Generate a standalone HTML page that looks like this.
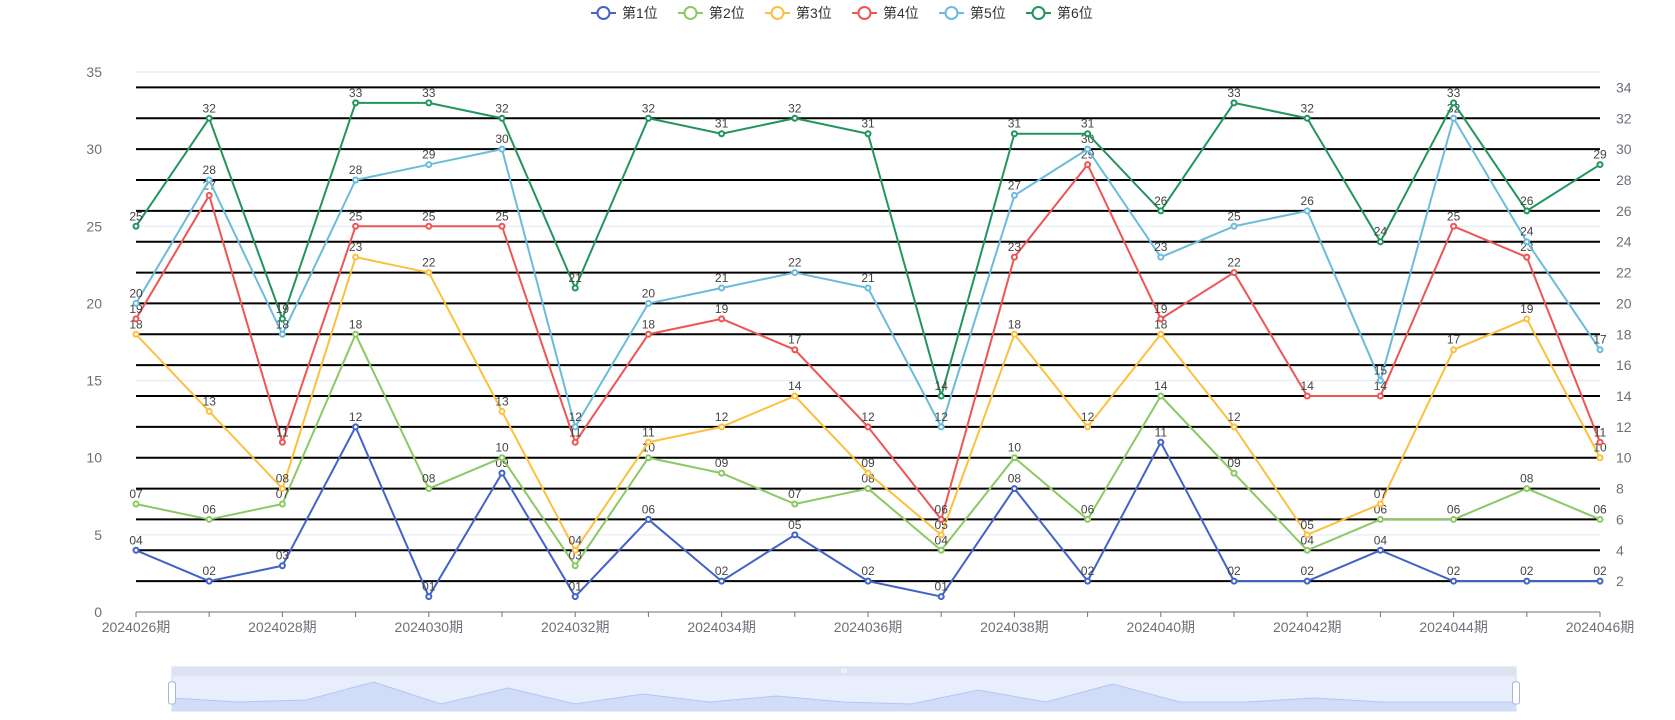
<!DOCTYPE html>
<html><head><meta charset="utf-8">
<style>
body{margin:0;background:#fff;}
svg{display:block;font-family:"Liberation Sans","Noto Sans CJK SC",sans-serif;}
</style></head>
<body>
<svg id="chart" width="1675" height="720" viewBox="0 0 1675 720"></svg>
<script>
const categories = ["2024026期","2024027期","2024028期","2024029期","2024030期","2024031期","2024032期","2024033期","2024034期","2024035期","2024036期","2024037期","2024038期","2024039期","2024040期","2024041期","2024042期","2024043期","2024044期","2024045期","2024046期"];
const seriesNames = ["第1位","第2位","第3位","第4位","第5位","第6位"];
const s1 = [4,2,3,12,1,9,1,6,2,5,2,1,8,2,11,2,2,4,2,2,2];
const s2 = [7,6,7,18,8,10,3,10,9,7,8,4,10,6,14,9,4,6,6,8,6];
const s3 = [18,13,8,23,22,13,4,11,12,14,9,5,18,12,18,12,5,7,17,19,10];
const s4 = [19,27,11,25,25,25,11,18,19,17,12,6,23,29,19,22,14,14,25,23,11];
const s5 = [20,28,18,28,29,30,12,20,21,22,21,12,27,30,23,25,26,15,32,24,17];
const s6 = [25,32,19,33,33,32,21,32,31,32,31,14,31,31,26,33,32,24,33,26,29];
const leftTicks = [0,5,10,15,20,25,30,35];
const rightTicks = [2,4,6,8,10,12,14,16,18,20,22,24,26,28,30,32,34];
const colors = ["#4363c8","#8cc863","#fbc13e","#ee5555","#6bbcdc","#22955e"];

const NS="http://www.w3.org/2000/svg";
const svg=document.getElementById('chart');
const X0=136,X1=1600,Y0=612,Y35=72;
const xs=i=>X0+(X1-X0)*i/(categories.length-1);
const ys=v=>Y0-(Y0-Y35)*v/35;
function mk(tag,attrs,parent){const e=document.createElementNS(NS,tag);for(const k in attrs)e.setAttribute(k,attrs[k]);(parent||svg).appendChild(e);return e;}

// light grid
leftTicks.forEach(t=>{
  if(t>0){const l=mk('line',{x1:X0,x2:X1,y1:ys(t),y2:ys(t),stroke:'#e0e6f1','stroke-width':1});
  
  }
  const tx=mk('text',{x:102,y:ys(t)+5,'text-anchor':'end','font-size':14,fill:'#6e7079'});
  tx.textContent=t;
  
  
});
// black lines for right axis
rightTicks.forEach(t=>{
  const l=mk('line',{x1:X0,x2:X1,y1:ys(t),y2:ys(t),stroke:'#000','stroke-width':2});
  
  
  const tx=mk('text',{x:1616,y:ys(t)+5,'font-size':14,fill:'#6e7079'});
  tx.textContent=t;
  
  
});
// x axis
const ax=mk('line',{x1:X0,x2:X1,y1:Y0,y2:Y0,stroke:'#6e7079','stroke-width':1});


categories.forEach((c,i)=>{
  const tk=mk('line',{x1:xs(i),x2:xs(i),y1:Y0,y2:Y0+5,stroke:'#6e7079'});
  
  
  if(i%2===0){
    const tx=mk('text',{x:xs(i),y:Y0+20,'text-anchor':'middle','font-size':14,fill:'#6e7079'});
    tx.textContent=c;
    
    
  }
});
// series
const allSeries=[s1,s2,s3,s4,s5,s6];
allSeries.forEach((d,si)=>{
  const g=mk('g',{});
  
  
  const p=mk('polyline',{points:d.map((v,i)=>xs(i)+','+ys(v)).join(' '),fill:'none',stroke:colors[si],'stroke-width':2,'stroke-linejoin':'round'},g);
  
  
  d.forEach((v,i)=>{
    const c=mk('circle',{cx:xs(i),cy:ys(v),r:2.5,fill:'#fff',stroke:colors[si],'stroke-width':2},g);
    
    
    const t=mk('text',{x:xs(i),y:ys(v)-6,'text-anchor':'middle','font-size':12,fill:'#444'},g);
    t.textContent=String(v).padStart(2,'0');
    
    
  });
});
// legend
const lx=[591,678,765,852,939,1026];
seriesNames.forEach((n,i)=>{
  const g=mk('g',{});
  
  
  mk('line',{x1:lx[i],x2:lx[i]+25,y1:13,y2:13,stroke:colors[i],'stroke-width':2},g);
  mk('circle',{cx:lx[i]+12.5,cy:13,r:6,fill:'#fff',stroke:colors[i],'stroke-width':2},g);
  const t=mk('text',{x:lx[i]+31,y:18,'font-size':14,fill:'#333'},g);
  t.textContent=n;
});
// data zoom slider
const SX0=172,SX1=1516,ST=667,SB=711;
const dz=mk('g',{});


mk('rect',{x:SX0,y:ST,width:SX1-SX0,height:SB-ST,fill:'#e8eefc',stroke:'#d2dbee'},dz);
mk('rect',{x:SX0,y:ST,width:SX1-SX0,height:9,fill:'#dde3f1'},dz);
const mn=Math.min(...s1),mx=Math.max(...s1);
const sxs=i=>SX0+(SX1-SX0)*i/(s1.length-1);
const sys=v=>704-(704-682)*(v-mn)/(mx-mn);
const pts=s1.map((v,i)=>sxs(i)+','+sys(v)).join(' ');
const sh=mk('polygon',{points:SX0+','+SB+' '+pts+' '+SX1+','+SB,fill:'#d1dcf8',stroke:'none'},dz);


mk('polyline',{points:pts,fill:'none',stroke:'#b3c6f4','stroke-width':1},dz);
[SX0,SX1].forEach(hx=>{
  const h=mk('rect',{x:hx-3.5,y:682,width:7,height:22,rx:2,fill:'#fff',stroke:'#a9b5d3'},dz);
  
  
});
const mid=(SX0+SX1)/2;
[-2,0,2].forEach(o=>mk('line',{x1:mid+o,x2:mid+o,y1:669,y2:673,stroke:'#fff'},dz));
</script>
</body></html>
